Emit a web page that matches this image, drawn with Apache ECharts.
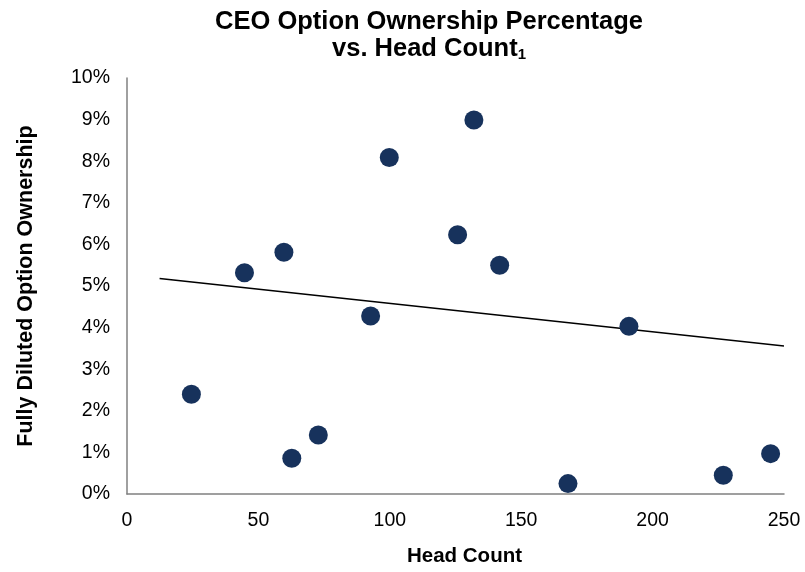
<!DOCTYPE html>
<html>
<head>
<meta charset="utf-8">
<script src="https://cdn.jsdelivr.net/npm/echarts@6/dist/echarts.min.js"></script>
<style>html,body{margin:0;padding:0;background:#fff}#c{width:805px;height:572px}</style>
</head>
<body>
<div id="c"></div>
<script>
const headCount = [24.5, 44.7, 59.7, 62.7, 72.8, 92.7, 99.8, 125.8, 132.0, 141.8, 167.8, 191.0, 226.9, 244.9];
const ownershipPct = [2.40, 5.32, 5.81, 0.86, 1.42, 4.28, 8.09, 6.23, 8.99, 5.50, 0.25, 4.03, 0.45, 0.97];
const trendX = [12.4, 250];
const trendY = [5.18, 3.56];
const xTicks = [0, 50, 100, 150, 200, 250];
const yTicks = [0, 1, 2, 3, 4, 5, 6, 7, 8, 9, 10];

const chart = echarts.init(document.getElementById('c'), null, {renderer: 'canvas'});
const font = 'Arial, "Liberation Sans", sans-serif';
chart.setOption({
  animation: false,
  backgroundColor: '#fff',
  title: {
    text: '{a|CEO Option Ownership Percentage}\n{a|vs. Head Count}{s|1}',
    left: 429,
    top: 8.5,
    textAlign: 'center',
    padding: 0,
    textStyle: {
      rich: {
        a: {fontFamily: font, fontSize: 25.5, fontWeight: 'bold', color: '#000', lineHeight: 27},
        s: {fontFamily: font, fontSize: 15, fontWeight: 'bold', color: '#000', lineHeight: 10, verticalAlign: 'bottom'}
      }
    }
  },
  grid: {left: 127, right: 21, top: 78, bottom: 77, containLabel: false},
  xAxis: {
    type: 'value',
    min: xTicks[0], max: xTicks[xTicks.length - 1], interval: 50,
    name: 'Head Count',
    nameLocation: 'middle',
    nameGap: 52,
    nameTextStyle: {fontFamily: font, fontSize: 20.5, fontWeight: 'bold', color: '#000', padding: [0, 0, 0, 18]},
    axisLine: {show: true, lineStyle: {color: '#808080', width: 1.5}},
    axisTick: {show: false},
    splitLine: {show: false},
    axisLabel: {fontFamily: font, fontSize: 19.5, color: '#000', margin: 17}
  },
  yAxis: {
    type: 'value',
    min: yTicks[0], max: yTicks[yTicks.length - 1], interval: 1,
    name: 'Fully Diluted Option Ownership',
    nameLocation: 'middle',
    nameGap: 90,
    nameRotate: 90,
    nameTextStyle: {fontFamily: font, fontSize: 21.5, fontWeight: 'bold', color: '#000'},
    axisLine: {show: true, lineStyle: {color: '#808080', width: 1.5}},
    axisTick: {show: false},
    splitLine: {show: false},
    axisLabel: {fontFamily: font, fontSize: 19.5, color: '#000', margin: 17, formatter: v => v + '%'}
  },
  series: [
    {
      type: 'line',
      data: trendX.map((x, i) => [x, trendY[i]]),
      symbol: 'none',
      lineStyle: {color: '#000', width: 1.5},
      z: 1
    },
    {
      type: 'scatter',
      data: headCount.map((x, i) => [x, ownershipPct[i]]),
      symbol: 'circle',
      symbolSize: 19,
      itemStyle: {color: '#17325c', opacity: 1},
      z: 2
    }
  ]
});
</script>
</body>
</html>
